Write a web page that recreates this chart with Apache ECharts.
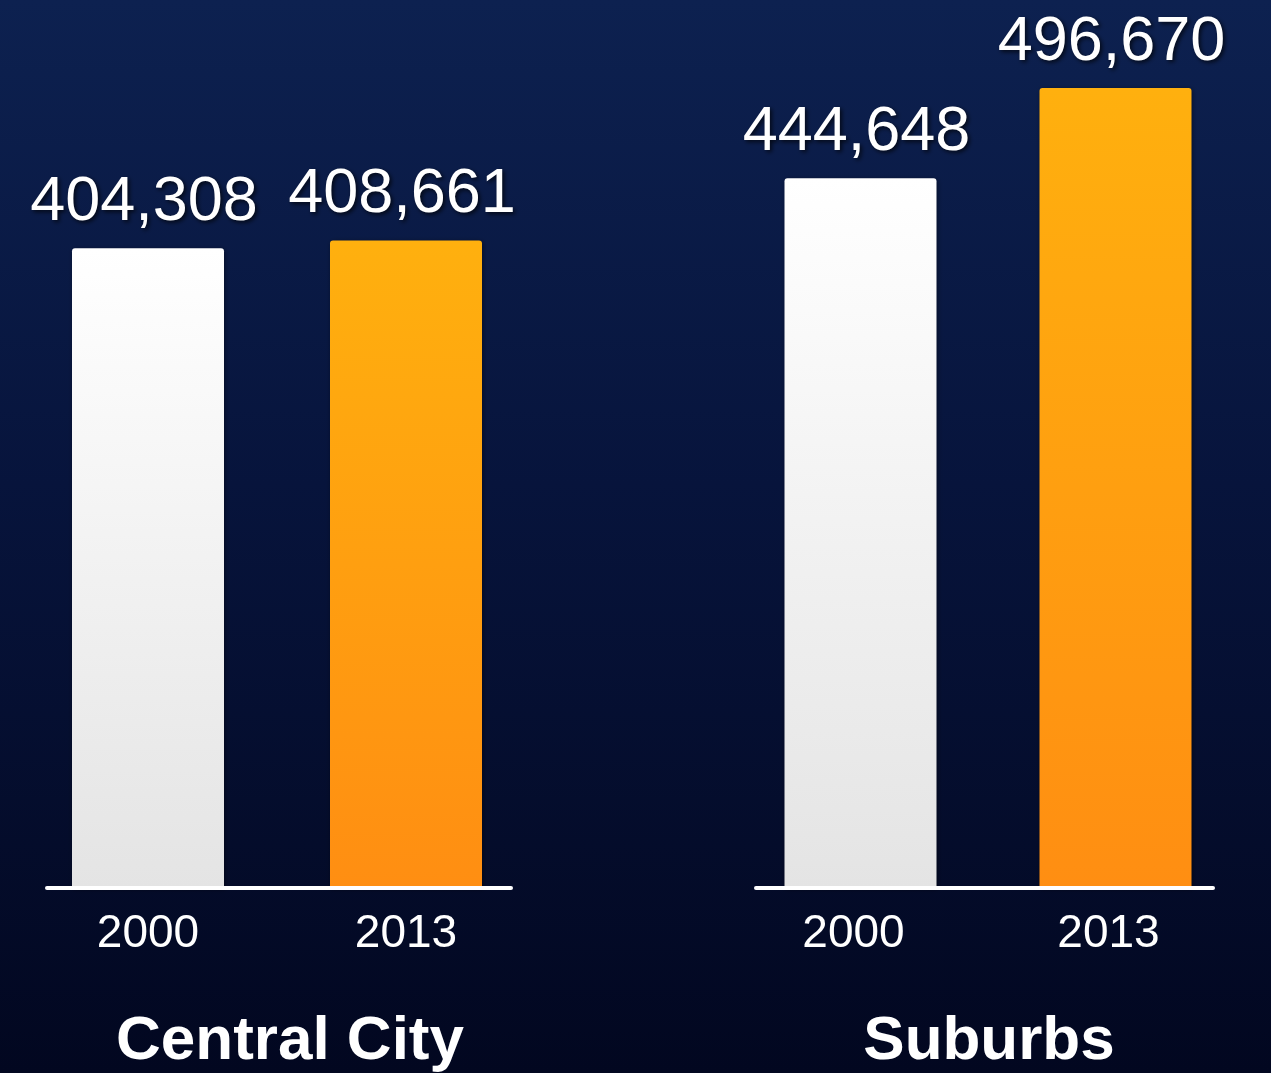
<!DOCTYPE html>
<html>
<head>
<meta charset="utf-8">
<script src="https://cdn.jsdelivr.net/npm/echarts@6/dist/echarts.min.js"></script>
<style>
  html, body { margin: 0; padding: 0; }
  #pic { width: 1271px; height: 1073px; }
</style>
</head>
<body>
<div id="pic"></div>
<script>
var years = ['2000', '2013'];
var centralCity = [404308, 408661];
var suburbs = [444648, 496670];
var panelNames = ['Central City', 'Suburbs'];

var chart = echarts.init(document.getElementById('pic'));
var font = '"Liberation Sans", Arial, Helvetica, sans-serif';

function barColor(params) {
  if (params.dataIndex === 0) {
    return new echarts.graphic.LinearGradient(0, 0, 0, 1, [
      {offset: 0, color: '#ffffff'},
      {offset: 1, color: '#e4e4e4'}
    ]);
  }
  return new echarts.graphic.LinearGradient(0, 0, 0, 1, [
    {offset: 0, color: '#ffb00e'},
    {offset: 1, color: '#ff8e12'}
  ]);
}

function barSeries(idx, data) {
  return {
    type: 'bar',
    xAxisIndex: idx,
    yAxisIndex: idx,
    data: data,
    barWidth: 152,
    animation: false,
    itemStyle: {
      color: barColor,
      borderRadius: [3, 3, 0, 0],
      shadowColor: 'rgba(0,0,0,0.45)',
      shadowBlur: 5,
      shadowOffsetX: 1,
      shadowOffsetY: 1
    },
    label: {
      show: true,
      position: 'top',
      distance: 14,
      offset: [-4, 0],
      color: '#ffffff',
      fontFamily: font,
      fontSize: 63,
      textShadowColor: 'rgba(0,0,0,0.7)',
      textShadowBlur: 4,
      textShadowOffsetX: 2,
      textShadowOffsetY: 2,
      formatter: function (p) {
        return p.value.toLocaleString('en-US');
      }
    }
  };
}

function yAx(idx) {
  return {
    type: 'value', gridIndex: idx, min: 35000, max: 510000, show: false
  };
}

var option = {
  backgroundColor: new echarts.graphic.LinearGradient(0, 0, 0, 1, [
    {offset: 0, color: '#0d2150'},
    {offset: 0.45, color: '#07143c'},
    {offset: 1, color: '#020720'}
  ]),
  title: [
    {
      text: panelNames[0], left: 285, top: 1006, textAlign: 'center',
      textStyle: {color: '#fff', fontFamily: font, fontSize: 62, fontWeight: 'bold'}
    },
    {
      text: panelNames[1], left: 984, top: 1006, textAlign: 'center',
      textStyle: {color: '#fff', fontFamily: font, fontSize: 62, fontWeight: 'bold'}
    }
  ],
  grid: [
    {left: 19, width: 516, top: 65, bottom: 185},
    {left: 733, width: 510, top: 65, bottom: 185},
    {left: 47, width: 464, top: 65, bottom: 185},
    {left: 756, width: 457, top: 65, bottom: 185}
  ],
  xAxis: [0, 1].map(function (i) {
    return {
      type: 'category', gridIndex: i, data: years,
      axisLine: {show: false}, axisTick: {show: false},
      axisLabel: {
        color: '#fff', fontFamily: font, fontSize: 46, margin: 23,
        padding: i === 1 ? [0, 14, 0, 0] : 0
      }
    };
  }).concat([2, 3].map(function (i) {
    return {
      type: 'category', gridIndex: i, data: years, z: 10,
      axisLine: {show: true, lineStyle: {color: '#ffffff', width: 4}},
      axisTick: {show: false}, axisLabel: {show: false}
    };
  })),
  yAxis: [yAx(0), yAx(1), yAx(2), yAx(3)],
  series: [
    barSeries(0, centralCity),
    barSeries(1, suburbs)
  ]
};
chart.setOption(option);
</script>
</body>
</html>
